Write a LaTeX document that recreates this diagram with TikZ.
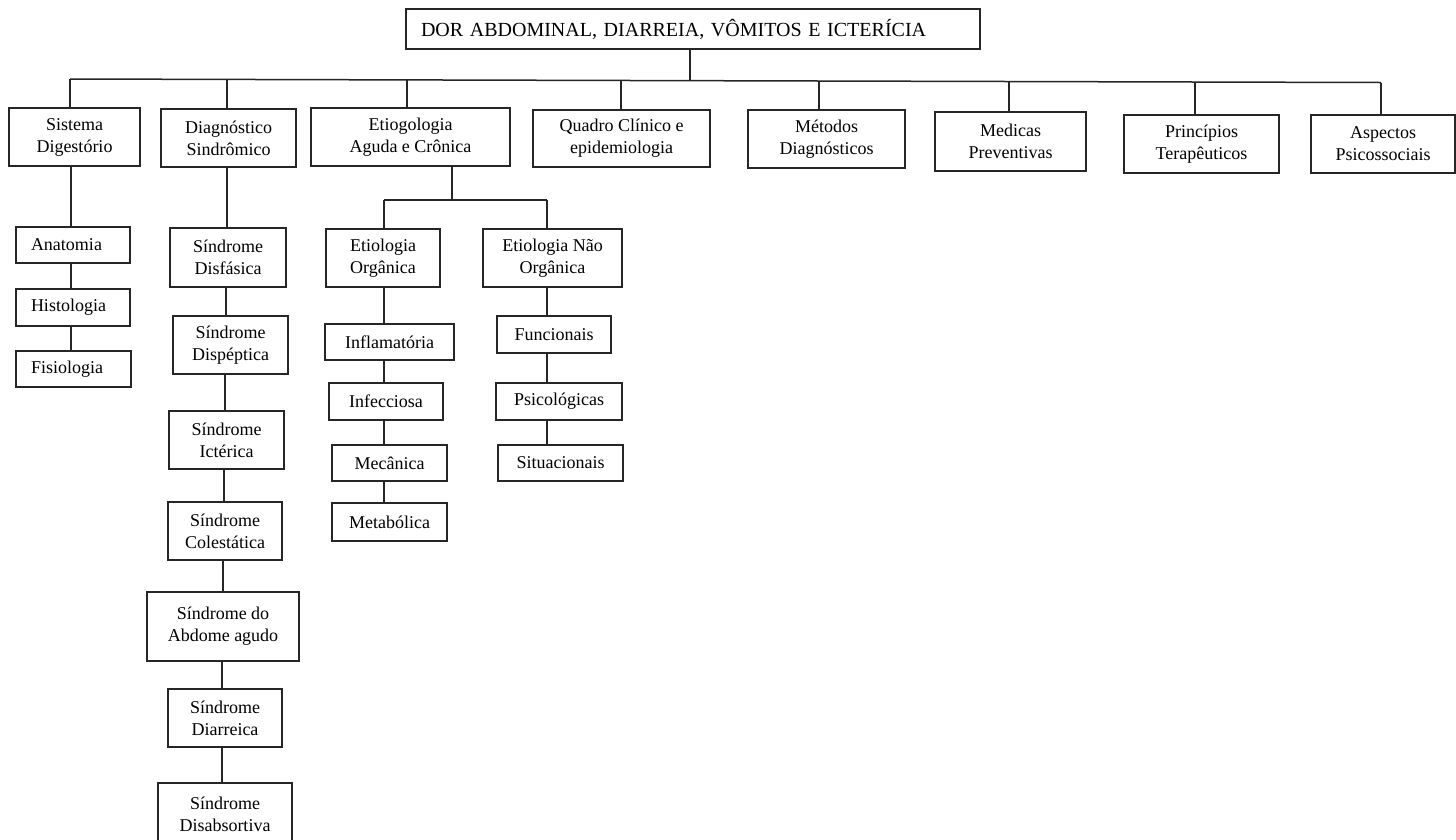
\documentclass[tikz,border=0pt]{standalone}
\usepackage{fontspec}
\setmainfont{Liberation Serif}
\usetikzlibrary{calc}
\newcommand\mkbox[7][]{\node[box,#1,minimum width={#4-#3},minimum height={#6-#5}] (#2) at ({(#3+#4)/2},{(#5+#6)/2}) {#7};}
\newcommand\vlink[3]{\coordinate (tmpx) at (#3,0); \draw[conn] (#1.south -| tmpx) -- (#2.north -| tmpx);}
\begin{document}
\begin{tikzpicture}[x=1pt,y=-1pt,
  box/.style={draw=black!85,line width=1.5pt,fill=white,align=center,inner sep=0pt,
    font=\fontsize{18}{22}\selectfont},
  lbox/.style={align=left,inner xsep=15pt,text width={#1}},
  conn/.style={draw=black!85,line width=1.5pt}]
\useasboundingbox (0,0) rectangle (1456,839);
\clip (0,0) rectangle (1456,839);
\fill[white] (0,0) rectangle (1456,839);
% title
\node[box,minimum height=40,text width=544,inner xsep=15pt,align=left,
  font=\fontsize{20}{24}\selectfont] (title) at (693,29)
  {DOR ABDOMINAL, DIARREIA, VÔMITOS E ICTERÍCIA};
% level 1
\mkbox{s1}{9}{140}{108}{166}{Sistema\\Digestório}
\mkbox{s2}{161}{296}{109}{167}{Diagnóstico\\Sindrômico}
\mkbox{s3}{311}{510}{108}{166}{Etiogologia\\Aguda e Crônica}
\mkbox{s4}{533}{710}{110}{167}{Quadro Clínico e\\epidemiologia}
\mkbox{s5}{748}{905}{110}{168}{Métodos\\Diagnósticos}
\mkbox{s6}{935}{1086}{112}{171}{Medicas\\Preventivas}
\mkbox{s7}{1124}{1279}{115}{173}{Princípios\\Terapêuticos}
\mkbox{s8}{1311}{1455}{115}{173}{Aspectos\\Psicossociais}
% bus
\coordinate (busL) at (70,79);
\coordinate (busR) at (1381,82.5);
\coordinate (tstem) at (690,80.7);
\draw[conn] (busL) -- (busR);
\draw[conn] (title.south -| tstem) -- (tstem);
\coordinate (c1) at (70,79);
\coordinate (c2) at (227,79.4);
\coordinate (c3) at (407,79.9);
\coordinate (c4) at (621,80.5);
\coordinate (c5) at (819,81);
\coordinate (c6) at (1009,81.5);
\coordinate (c7) at (1195,82);
\coordinate (c8) at (1381,82.5);
\foreach \i in {1,...,8}{\draw[conn] (c\i) -- (c\i |- s\i.north);}
% Sistema column
\mkbox[lbox=84]{a1}{16}{130}{227}{263}{Anatomia}
\mkbox[lbox=84]{a2}{16}{130}{289}{326}{Histologia}
\mkbox[lbox=85]{a3}{16}{131}{351}{387}{Fisiologia}
\vlink{s1}{a1}{71}
\vlink{a1}{a2}{71}
\vlink{a2}{a3}{71}
% Diagnostico column
\mkbox{d1}{170}{286}{228}{287}{Síndrome\\Disfásica}
\mkbox{d2}{173}{288}{316}{374}{Síndrome\\Dispéptica}
\mkbox{d3}{169}{284}{411}{469}{Síndrome\\Ictérica}
\mkbox{d4}{168}{282}{502}{560}{Síndrome\\Colestática}
\mkbox{d5}{147}{299}{592}{661}{Síndrome do\\Abdome agudo}
\mkbox{d6}{168}{282}{689}{747}{Síndrome\\Diarreica}
\mkbox{d7}{158}{292}{783}{845}{Síndrome\\Disabsortiva}
\vlink{s2}{d1}{227}
\vlink{d1}{d2}{226}
\vlink{d2}{d3}{225}
\vlink{d3}{d4}{224}
\vlink{d4}{d5}{223}
\vlink{d5}{d6}{222}
\vlink{d6}{d7}{222}
% Etiologia
\mkbox{o1}{326}{440}{229}{287}{Etiologia\\Orgânica}
\mkbox{o2}{325}{454}{324}{360}{Inflamatória}
\mkbox{o3}{329}{443}{383}{420}{Infecciosa}
\mkbox{o4}{332}{447}{445}{481}{Mecânica}
\mkbox{o5}{332}{447}{503}{541}{Metabólica}
\mkbox{n1}{483}{622}{229}{287}{Etiologia Não\\Orgânica}
\mkbox{n2}{497}{611}{316}{353}{Funcionais}
\mkbox{n3}{496}{622}{383}{420}{Psicológicas}
\mkbox{n4}{498}{623}{445}{481}{Situacionais}
\coordinate (eb) at (452,200);
\coordinate (el) at (384,200);
\coordinate (er) at (547,200);
\draw[conn] (s3.south -| eb) -- (eb);
\draw[conn] (el) -- (er);
\draw[conn] (el) -- (el |- o1.north);
\draw[conn] (er) -- (er |- n1.north);
\vlink{o1}{o2}{384}
\vlink{o2}{o3}{384}
\vlink{o3}{o4}{384}
\vlink{o4}{o5}{384}
\vlink{n1}{n2}{547}
\vlink{n2}{n3}{547}
\vlink{n3}{n4}{547}
\end{tikzpicture}
\end{document}
